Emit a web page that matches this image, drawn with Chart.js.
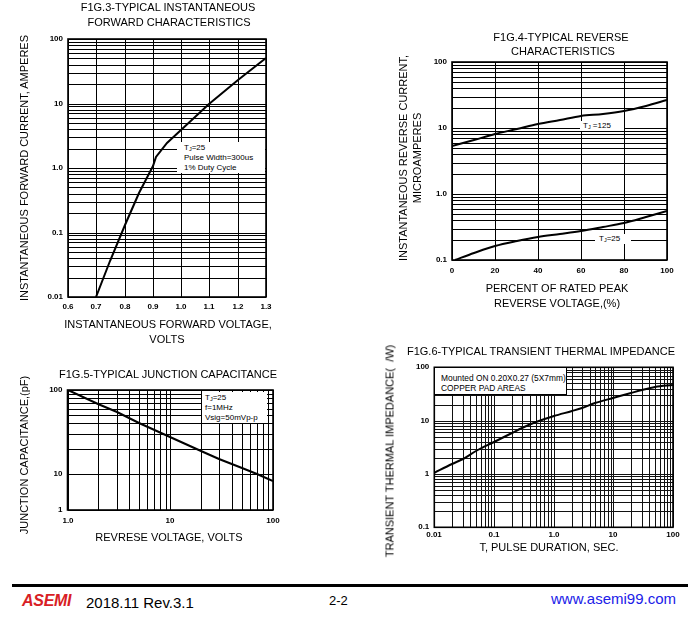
<!DOCTYPE html>
<html>
<head>
<meta charset="utf-8">
<script src="https://cdn.jsdelivr.net/npm/chart.js@4.4.1/dist/chart.umd.min.js"></script>
<style>
html,body{margin:0;padding:0;background:#fff;}
#page{position:relative;width:700px;height:637px;overflow:hidden;font-family:"Liberation Sans",Arial,Helvetica,sans-serif;color:#000;background:#fff;}
canvas{position:absolute;z-index:1;}
.t{position:absolute;white-space:pre;font-size:11px;line-height:1;transform:translate(-50%,-50%);z-index:2;}
.v{position:absolute;white-space:pre;font-size:11px;line-height:1;transform:translate(-50%,-50%) rotate(-90deg);z-index:2;}
.box{position:absolute;background:#fff;font-size:8px;line-height:10px;white-space:pre;z-index:2;box-sizing:border-box;}
.box sub{font-size:5.5px;vertical-align:-1px;line-height:0;}
.f{position:absolute;white-space:pre;line-height:1;transform:translateY(-50%);z-index:2;}
</style>
</head>
<body>
<div id="page">
  <canvas id="c3" width="350" height="345" style="left:0;top:0;width:350px;height:345px"></canvas>
  <canvas id="c4" width="350" height="330" style="left:350px;top:0;width:350px;height:330px"></canvas>
  <canvas id="c5" width="350" height="215" style="left:0;top:345px;width:350px;height:215px"></canvas>
  <canvas id="c6" width="350" height="235" style="left:350px;top:330px;width:350px;height:235px"></canvas>

  <!-- Fig 3 texts -->
  <div class="t" style="left:168px;top:7px">F1G.3-TYPICAL INSTANTANEOUS</div>
  <div class="t" style="left:169px;top:22px">FORWARD CHARACTERISTICS</div>
  <div class="v" style="left:24px;top:168px">INSTANTANEOUS FORWARD CURRENT, AMPERES</div>
  <div class="t" style="left:168px;top:324px">INSTANTANEOUS FORWARD VOLTAGE,</div>
  <div class="t" style="left:167px;top:339px">VOLTS</div>
  <div class="box" style="left:177px;top:142px;width:88px;height:31px;padding:1px 0 0 7px">T<sub>J</sub>=25
Pulse Width=300us
1% Duty Cycle</div>

  <!-- Fig 4 texts -->
  <div class="t" style="left:561px;top:37px">F1G.4-TYPICAL REVERSE</div>
  <div class="t" style="left:563px;top:51px">CHARACTERISTICS</div>
  <div class="v" style="left:403px;top:158px">INSTANTANEOUS REVERSE CURRENT,</div>
  <div class="v" style="left:417px;top:158px">MICROAMPERES</div>
  <div class="t" style="left:557px;top:288px">PERCENT OF RATED PEAK</div>
  <div class="t" style="left:557px;top:303px">REVERSE VOLTAGE,(%)</div>
  <div class="box" style="left:580px;top:121px;width:44px;height:10px;padding:0 0 0 3px">T<sub>J</sub> =125</div>
  <div class="box" style="left:595px;top:234px;width:36px;height:10px;padding:0 0 0 4px">T<sub>J</sub>=25</div>

  <!-- Fig 5 texts -->
  <div class="t" style="left:168px;top:374px">F1G.5-TYPICAL JUNCTION CAPACITANCE</div>
  <div class="v" style="left:24px;top:455px">JUNCTION CAPACITANCE,(pF)</div>
  <div class="t" style="left:169px;top:537px">REVRESE VOLTAGE, VOLTS</div>
  <div class="box" style="left:202px;top:392px;width:65px;height:31px;padding:1px 0 0 3px">T<sub>J</sub>=25
f=1MHz
Vsig=50mVp-p</div>

  <!-- Fig 6 texts -->
  <div class="t" style="left:541px;top:351px">F1G.6-TYPICAL TRANSIENT THERMAL IMPEDANCE</div>
  <div class="v" style="left:390px;top:451px">TRANSIENT THERMAL IMPEDANCE(  /W)</div>
  <div class="t" style="left:549px;top:547px">T, PULSE DURATION, SEC.</div>
  <div class="box" style="left:435px;top:368px;width:132px;height:27px;padding:5px 0 0 6px;font-size:8.4px;line-height:10px;border-right:1px solid #000;border-bottom:1px solid #000">Mounted ON 0.20X0.27 (5X7mm)
COPPER PAD AREAS</div>

  <!-- Footer -->
  <div style="position:absolute;left:12px;top:584px;width:676px;height:3px;background:#000;z-index:2"></div>
  <div class="f" style="left:22px;top:601px;font-size:16px;font-weight:bold;font-style:italic;color:#d81e25;letter-spacing:-0.3px">ASEMI</div>
  <div class="f" style="left:86px;top:602px;font-size:15px">2018.11 Rev.3.1</div>
  <div class="f" style="left:329px;top:600px;font-size:13px">2-2</div>
  <div class="f" style="left:551px;top:598px;font-size:15px;color:#2020e8">www.asemi99.com</div>
</div>

<script>
// ---------------- DATA ----------------
// Fig.3 forward characteristics
const fig3Voltage = [0.7, 0.75, 0.8, 0.85, 0.9, 0.91, 0.95, 1.0, 1.1, 1.2, 1.3];
const fig3Current = [0.01, 0.036, 0.132, 0.41, 1.06, 1.48, 2.43, 3.9, 10, 23.2, 50.3];
const fig3XTickValues = [0.6, 0.7, 0.8, 0.9, 1.0, 1.1, 1.2, 1.3];
const fig3XTickLabels = ['0.6', '0.7', '0.8', '0.9', '1.0', '1.1', '1.2', '1.3'];
const fig3YTickValues = [0.01, 0.1, 1, 10, 100];
const fig3YTickLabels = ['0.01', '0.1', '1.0', '10', '100'];

// Fig.4 reverse characteristics
const fig4Percent125 = [0, 10, 20, 30, 40, 50, 60, 70, 80, 90, 100];
const fig4Current125 = [5.37, 6.5, 8.05, 9.6, 11.4, 13.1, 15.1, 16.4, 17.9, 21.6, 26.3];
const fig4Percent25 = [1.5, 10, 20, 30, 40, 50, 60, 70, 80, 90, 100];
const fig4Current25 = [0.1, 0.126, 0.165, 0.196, 0.225, 0.247, 0.278, 0.316, 0.367, 0.453, 0.557];
const fig4XTickValues = [0, 20, 40, 60, 80, 100];
const fig4XTickLabels = ['0', '20', '40', '60', '80', '100'];
const fig4YTickValues = [0.1, 1, 10, 100];
const fig4YTickLabels = ['0.1', '1.0', '10', '100'];

// Fig.5 junction capacitance
const fig5Voltage = [1, 2, 3, 5, 10, 20, 30, 50, 70, 100];
const fig5Capacitance = [100, 68.7, 55, 41, 27.6, 18.9, 15.2, 11.8, 10, 6.5];
const fig5XTickValues = [1, 10, 100];
const fig5XTickLabels = ['1.0', '10', '100'];
const fig5YGridValues = [1, 10, 20, 30, 40, 50, 60, 70, 80, 90, 100];
const fig5YTickValues = [1, 10, 100];
const fig5YTickLabels = ['1', '10', '100'];

// Fig.6 transient thermal impedance
const fig6Duration = [0.01, 0.02, 0.03, 0.05, 0.1, 0.2, 0.3, 0.5, 1, 2, 3, 5, 10, 20, 30, 50, 100];
const fig6Impedance = [1.06, 1.56, 1.94, 2.7, 3.98, 5.87, 7.3, 9.4, 12, 15.4, 17.5, 21, 26.6, 33, 38, 42.8, 46];
const fig6XTickValues = [0.01, 0.1, 1, 10, 100];
const fig6XTickLabels = ['0.01', '0.1', '1.0', '10', '100'];
const fig6YTickValues = [0.1, 1, 10, 100];
const fig6YTickLabels = ['0.1', '1', '10', '100'];

// ---------------- HELPERS ----------------
const FONT = '"Liberation Sans", Arial, Helvetica, sans-serif';

function logGrid(minExp, maxExp) {
  const t = [];
  for (let e = minExp; e < maxExp; e++) {
    for (let m = 1; m < 10; m++) t.push(parseFloat((m * Math.pow(10, e)).toPrecision(6)));
  }
  t.push(Math.pow(10, maxExp));
  return t;
}
function labeler(values, labels) {
  return function (v) {
    const i = values.findIndex(x => Math.abs(x - v) <= 1e-9 * Math.max(1, Math.abs(x)));
    return i >= 0 ? labels[i] : '';
  };
}
function toPoints(xs, ys) { return xs.map((x, i) => ({ x: x, y: ys[i] })); }

// Log axis whose lower decade is compressed (as printed on the datasheet graph)
class SplitLogScale extends Chart.LogarithmicScale {
  _dec(value) {
    const lmin = Math.log10(this.min), lmax = Math.log10(this.max);
    const lb = Math.log10(this.options.breakValue);
    const f = this.options.lowerShare;
    const v = Math.log10(value);
    if (v <= lb) return f * (v - lmin) / (lb - lmin);
    return f + (1 - f) * (v - lb) / (lmax - lb);
  }
  getPixelForValue(value) {
    if (value === undefined || value === 0) value = this.min;
    if (value === null || isNaN(value)) return NaN;
    return this.getPixelForDecimal(this._dec(value));
  }
  getValueForPixel(pixel) {
    const d = this.getDecimalForPixel(pixel);
    const lmin = Math.log10(this.min), lmax = Math.log10(this.max);
    const lb = Math.log10(this.options.breakValue);
    const f = this.options.lowerShare;
    const v = d <= f ? lmin + (d / f) * (lb - lmin) : lb + ((d - f) / (1 - f)) * (lmax - lb);
    return Math.pow(10, v);
  }
}
SplitLogScale.id = 'splitlog';
SplitLogScale.defaults = Chart.LogarithmicScale.defaults;
Chart.register(SplitLogScale);

const framePlugin = {
  id: 'frame',
  afterDraw(chart) {
    const { ctx, chartArea: a } = chart;
    ctx.save();
    ctx.strokeStyle = '#000';
    ctx.lineWidth = 1.6;
    ctx.strokeRect(a.left, a.top, a.right - a.left, a.bottom - a.top);
    ctx.restore();
  }
};

function axis(opts) {
  const lab = labeler(opts.labelValues, opts.labels);
  const a = {
    type: opts.type,
    min: opts.min,
    max: opts.max,
    alignToPixels: true,
    afterBuildTicks: s => { s.ticks = opts.grid.map(v => ({ value: v })); },
    afterFit: s => { if (opts.isX) s.height = 20; else s.width = 40; },
    grid: { color: opts.gridColor || '#000', lineWidth: 1, drawTicks: false },
    border: { display: false },
    ticks: {
      autoSkip: false, maxRotation: 0, minRotation: 0,
      padding: opts.pad, color: '#000',
      font: { family: FONT, size: 8, weight: 'bold' },
      callback: v => lab(v)
    }
  };
  if (opts.extra) Object.assign(a, opts.extra);
  return a;
}

function lineDs(points, smooth) {
  return {
    data: points, borderColor: '#000', borderWidth: 2, pointRadius: 0,
    fill: false, tension: 0, cubicInterpolationMode: smooth ? 'monotone' : 'default'
  };
}

function makeChart(id, datasets, xAxis, yAxis, padding) {
  return new Chart(document.getElementById(id), {
    type: 'line',
    data: { datasets: datasets },
    options: {
      responsive: false, animation: false, events: [],
      layout: { padding: padding },
      plugins: { legend: { display: false }, tooltip: { enabled: false }, title: { display: false } },
      scales: { x: xAxis, y: yAxis }
    },
    plugins: [framePlugin]
  });
}

// ---------------- CHARTS ----------------
makeChart('c3',
  [lineDs(toPoints(fig3Voltage, fig3Current), false)],
  axis({ type: 'linear', min: 0.6, max: 1.3, grid: fig3XTickValues, labelValues: fig3XTickValues, labels: fig3XTickLabels, pad: 5, isX: true }),
  axis({ type: 'logarithmic', min: 0.01, max: 100, grid: logGrid(-2, 2), labelValues: fig3YTickValues, labels: fig3YTickLabels, pad: 5 }),
  { left: 28, right: 84, top: 39, bottom: 28 });

makeChart('c4',
  [lineDs(toPoints(fig4Percent125, fig4Current125), true), lineDs(toPoints(fig4Percent25, fig4Current25), true)],
  axis({ type: 'linear', min: 0, max: 100, grid: fig4XTickValues, labelValues: fig4XTickValues, labels: fig4XTickLabels, pad: 5.5, isX: true }),
  axis({ type: 'logarithmic', min: 0.1, max: 100, grid: logGrid(-1, 2), labelValues: fig4YTickValues, labels: fig4YTickLabels, pad: 5 }),
  { left: 62, right: 33, top: 62, bottom: 50 });

makeChart('c5',
  [lineDs(toPoints(fig5Voltage, fig5Capacitance), false)],
  axis({ type: 'logarithmic', min: 1, max: 100, grid: logGrid(0, 2), labelValues: fig5XTickValues, labels: fig5XTickLabels, pad: 5.5, isX: true }),
  axis({ type: 'splitlog', min: 1, max: 100, grid: fig5YGridValues, labelValues: fig5YTickValues, labels: fig5YTickLabels, pad: 5,
         extra: { breakValue: 10, lowerShare: 0.3 } }),
  { left: 27.5, right: 77, top: 45, bottom: 30 });

makeChart('c6',
  [lineDs(toPoints(fig6Duration, fig6Impedance), true)],
  axis({ type: 'logarithmic', min: 0.01, max: 100, grid: logGrid(-2, 2), labelValues: fig6XTickValues, labels: fig6XTickLabels, pad: 2.5, isX: true, gridColor: '#111' }),
  axis({ type: 'logarithmic', min: 0.1, max: 100, grid: logGrid(-1, 2), labelValues: fig6YTickValues, labels: fig6YTickLabels, pad: 5, gridColor: '#111' }),
  { left: 44.3, right: 27, top: 37.3, bottom: 17.7 });
</script>
</body>
</html>
